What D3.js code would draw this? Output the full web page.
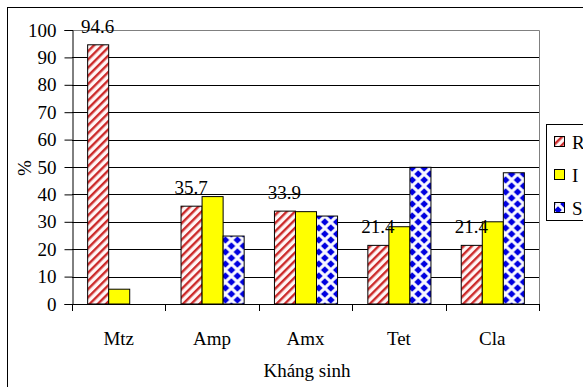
<!DOCTYPE html>
<html>
<head>
<meta charset="utf-8">
<script src="https://cdn.jsdelivr.net/npm/d3@7"></script>
<style>
  html, body { margin: 0; padding: 0; background: #fff; }
  svg { display: block; }
  svg text { font-family: "Times New Roman", "Liberation Serif", "DejaVu Serif", serif !important; fill: #000; }
</style>
</head>
<body>
<svg id="chart" width="583" height="387"></svg>
<script>
const categories = ["Mtz", "Amp", "Amx", "Tet", "Cla"];
const seriesNames = ["R", "I", "S"];
const valuesR = [94.6, 35.7, 33.9, 21.4, 21.4];
const valuesI = [5.4, 39.2, 33.7, 28.2, 30.0];
const valuesS = [0, 24.8, 32.1, 49.9, 47.9];
const yTicks = [0, 10, 20, 30, 40, 50, 60, 70, 80, 90, 100];
const labelsR = ["94.6", "35.7", "33.9", "21.4", "21.4"];

const FONT = "Liberation Serif";
const svg = d3.select("#chart");
const plot = { left: 72, top: 30, right: 539, bottom: 304 };

// defs: patterns
const defs = svg.append("defs");
const pR = defs.append("pattern").attr("id", "patR")
  .attr("patternUnits", "userSpaceOnUse").attr("width", 5.8).attr("height", 5.8)
  .attr("patternTransform", "rotate(45)");
pR.append("rect").attr("width", 5.8).attr("height", 5.8).attr("fill", "#fff6f6");
pR.append("rect").attr("width", 2.4).attr("height", 5.8).attr("fill", "#cc2a2a");

const pS = defs.append("pattern").attr("id", "patS")
  .attr("patternUnits", "userSpaceOnUse").attr("width", 12).attr("height", 12);
pS.append("rect").attr("width", 12).attr("height", 12).attr("fill", "#f8f8ff");
const dia = (cx, cy, r) => `M${cx},${cy - r}L${cx + r},${cy}L${cx},${cy + r}L${cx - r},${cy}Z`;
[[0,0],[12,0],[0,12],[12,12],[6,6]].forEach(([cx, cy]) => {
  pS.append("path").attr("d", dia(cx, cy, 3.8)).attr("fill", "#0000e0");
});

const fills = { R: "url(#patR)", I: "#ffff00", S: "url(#patS)" };

// outer border
svg.append("rect").attr("x", 7.5).attr("y", 7.5).attr("width", 600).attr("height", 400)
  .attr("fill", "none").attr("stroke", "#000").attr("stroke-width", 1);

const x0 = d3.scaleBand().domain(categories).range([plot.left, plot.right]).paddingInner(0).paddingOuter(0);
const x1 = d3.scaleBand().domain(seriesNames).range([0, x0.bandwidth()]).paddingInner(0).paddingOuter(0.72);
const y = d3.scaleLinear().domain([0, 100]).range([plot.bottom, plot.top]);

// gridlines
svg.append("g").selectAll("line").data(yTicks.filter(t => t > 0 && t < 100)).join("line")
  .attr("x1", plot.left).attr("x2", plot.right)
  .attr("y1", d => Math.round(y(d)) + 0.5).attr("y2", d => Math.round(y(d)) + 0.5)
  .attr("stroke", "#000").attr("stroke-width", 1);

// plot border (top & right gray)
svg.append("path")
  .attr("d", `M${plot.left},${Math.round(y(100)) + 0.5}H${plot.right + 0.5}V${plot.bottom}`)
  .attr("fill", "none").attr("stroke", "#808080").attr("stroke-width", 1);

// bars
const data = categories.map((c, i) => ({ cat: c, vals: { R: valuesR[i], I: valuesI[i], S: valuesS[i] } }));
const groups = svg.append("g").selectAll("g").data(data).join("g")
  .attr("transform", d => `translate(${x0(d.cat)},0)`);
groups.selectAll("rect").data(d => seriesNames.map(s => ({ s, v: d.vals[s] })).filter(e => e.v > 0)).join("rect")
  .attr("x", e => x1(e.s) + 0.5)
  .attr("y", e => y(e.v))
  .attr("width", x1.bandwidth())
  .attr("height", e => y(0) - y(e.v))
  .attr("fill", e => fills[e.s])
  .attr("stroke", "#000").attr("stroke-width", 1);

// y axis
const yAxis = d3.axisLeft(y).tickValues(yTicks).tickSize(8).tickPadding(8).tickFormat(d3.format("d"));
const gy = svg.append("g").attr("transform", `translate(${plot.left + 0.5},0)`).call(yAxis)
  .attr("font-family", FONT).attr("font-size", 19);
gy.select(".domain").attr("stroke", "#000");
gy.selectAll(".tick line").attr("stroke", "#000");
gy.selectAll(".tick text").attr("font-size", 19).attr("font-family", FONT).attr("fill", "#000");

// x axis
const boundaries = categories.map(c => x0(c)).concat([plot.right]);
const gx = svg.append("g");
gx.append("line").attr("x1", plot.left).attr("x2", plot.right + 0.5)
  .attr("y1", plot.bottom + 0.5).attr("y2", plot.bottom + 0.5).attr("stroke", "#000");
gx.selectAll("line.tk").data(boundaries).join("line").attr("class", "tk")
  .attr("x1", d => Math.round(d) + 0.5).attr("x2", d => Math.round(d) + 0.5)
  .attr("y1", plot.bottom).attr("y2", plot.bottom + 7).attr("stroke", "#000");
gx.selectAll("text").data(categories).join("text")
  .attr("x", d => x0(d) + x0.bandwidth() / 2)
  .attr("y", 345)
  .attr("text-anchor", "middle").attr("font-size", 19).attr("font-family", FONT)
  .text(d => d);

// data labels for R
svg.append("g").selectAll("text").data(data).join("text")
  .attr("x", (d) => x0(d.cat) + x1("R") + x1.bandwidth() / 2)
  .attr("y", d => y(d.vals.R) - 12)
  .attr("text-anchor", "middle").attr("font-size", 19).attr("font-family", FONT)
  .text((d, i) => labelsR[i]);

// axis titles
svg.append("text").attr("transform", "translate(31,168) rotate(-90)")
  .attr("text-anchor", "middle").attr("font-size", 19).attr("font-family", FONT).text("%");
svg.append("text").attr("x", 307).attr("y", 377)
  .attr("text-anchor", "middle").attr("font-size", 19).attr("font-family", FONT).text("Kháng sinh");

// legend
const lg = svg.append("g");
lg.append("rect").attr("x", 546.5).attr("y", 124.5).attr("width", 60).attr("height", 96)
  .attr("fill", "#fff").attr("stroke", "#000");
const legY = [142, 175, 208];
seriesNames.forEach((s, i) => {
  lg.append("rect").attr("x", 554.5).attr("y", legY[i] - 5.5).attr("width", 10).attr("height", 10)
    .attr("fill", fills[s]).attr("stroke", "#000");
  lg.append("text").attr("x", 572).attr("y", legY[i]).attr("dy", "0.35em")
    .attr("font-size", 19).attr("font-family", FONT).text(s);
});
</script>
</body>
</html>
